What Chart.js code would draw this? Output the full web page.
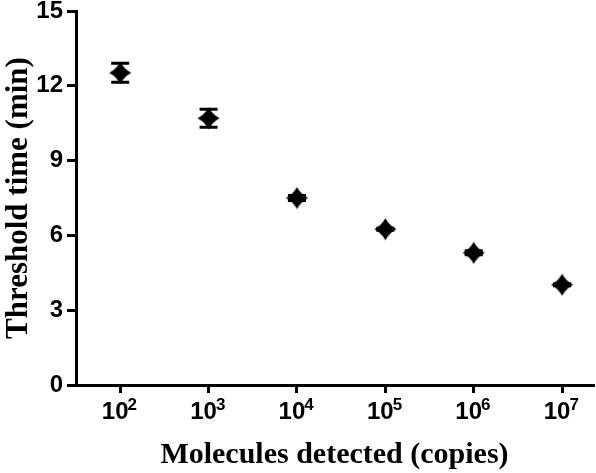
<!DOCTYPE html>
<html>
<head>
<meta charset="utf-8">
<script src="https://cdn.jsdelivr.net/npm/chart.js@4/dist/chart.umd.min.js"></script>
<style>
  html, body { margin: 0; padding: 0; background: #fff; }
  #c { display: block; }
</style>
</head>
<body>
<canvas id="c" width="596" height="473"></canvas>
<script>
// ---- data ----
const copies = [1e2, 1e3, 1e4, 1e5, 1e6, 1e7];
const thresholdTime = [12.52, 10.70, 7.50, 6.25, 5.30, 4.02];
const thresholdErr = [0.38, 0.36, 0.10, 0.04, 0.08, 0.04];
const xTickValues = [1e2, 1e3, 1e4, 1e5, 1e6, 1e7];
const xTickBase = ['10', '10', '10', '10', '10', '10'];
const xTickExponents = ['2', '3', '4', '5', '6', '7'];
const yTickValues = [0, 3, 6, 9, 12, 15];

const TICK_FONT = { family: 'Liberation Sans', weight: 'bold', size: 24, lineHeight: 1 };
const EXP_FONT = 'bold 17px "Liberation Sans"';
const X_LABEL_SHIFT = -5;

// custom marker: diamond with slightly concave sides
function makeMarker(size) {
  const c = document.createElement('canvas');
  c.width = size; c.height = size;
  const g = c.getContext('2d');
  const m = size / 2, e = 0.5, f = size - 0.5;
  const cp = (ax, ay, bx, by) => {
    const mx = (ax + bx) / 2, my = (ay + by) / 2;
    return [mx + (m - mx) * 0.3, my + (m - my) * 0.3];
  };
  g.fillStyle = '#000';
  g.beginPath();
  g.moveTo(m, e);
  let p = cp(m, e, f, m); g.quadraticCurveTo(p[0], p[1], f, m);
  p = cp(f, m, m, f); g.quadraticCurveTo(p[0], p[1], m, f);
  p = cp(m, f, e, m); g.quadraticCurveTo(p[0], p[1], e, m);
  p = cp(e, m, m, e); g.quadraticCurveTo(p[0], p[1], m, e);
  g.closePath();
  g.fill();
  return c;
}
const marker = makeMarker(23);

const errorBars = {
  id: 'errorBars',
  beforeDatasetsDraw(chart) {
    const ctx = chart.ctx;
    const ys = chart.scales.y;
    const meta = chart.getDatasetMeta(0);
    ctx.save();
    ctx.strokeStyle = '#000';
    ctx.lineWidth = 3;
    meta.data.forEach((pt, i) => {
      const v = thresholdTime[i], e = thresholdErr[i];
      const yt = ys.getPixelForValue(v + e);
      const yb = ys.getPixelForValue(v - e);
      const x = pt.x, w = 9;
      ctx.beginPath();
      ctx.moveTo(x, yt); ctx.lineTo(x, yb);
      ctx.moveTo(x - w, yt); ctx.lineTo(x + w, yt);
      ctx.moveTo(x - w, yb); ctx.lineTo(x + w, yb);
      ctx.stroke();
    });
    ctx.restore();
  }
};

// exponents of the x tick labels (10^n), placed after each "10" label
const exponents = {
  id: 'exponents',
  afterDraw(chart) {
    const ctx = chart.ctx;
    const xs = chart.scales.x;
    ctx.save();
    ctx.font = 'bold ' + TICK_FONT.size + 'px "' + TICK_FONT.family + '"';
    const baseW = ctx.measureText('10').width;
    ctx.font = EXP_FONT;
    ctx.fillStyle = '#000';
    ctx.textAlign = 'left';
    ctx.textBaseline = 'top';
    xTickValues.forEach((v, i) => {
      const x = xs.getPixelForValue(v) + X_LABEL_SHIFT + baseW / 2 - 1;
      ctx.fillText(xTickExponents[i], x, xs.top + 12);
    });
    ctx.restore();
  }
};

new Chart(document.getElementById('c'), {
  type: 'scatter',
  data: {
    datasets: [{
      data: copies.map((x, i) => ({ x: x, y: thresholdTime[i] })),
      pointStyle: marker,
      pointRadius: 11,
      backgroundColor: '#000',
      borderColor: '#000'
    }]
  },
  options: {
    responsive: false,
    devicePixelRatio: 1,
    animation: false,
    layout: { autoPadding: false, padding: { top: 11, right: 3, bottom: 0, left: 0 } },
    plugins: { legend: { display: false }, tooltip: { enabled: false } },
    scales: {
      x: {
        type: 'logarithmic',
        position: 'bottom',
        bounds: 'data',
        min: Math.pow(10, 1.5),
        max: Math.pow(10, 7.35),
        afterBuildTicks: (s) => { s.ticks = xTickValues.map(v => ({ value: v })); },
        afterFit: (s) => { s.height = 88; s.paddingLeft = 0; s.paddingRight = 0; },
        border: { display: true, color: '#000', width: 3 },
        grid: { display: true, drawOnChartArea: false, drawTicks: true, tickLength: 8, lineWidth: 3, color: '#000' },
        ticks: {
          autoSkip: false, maxRotation: 0, minRotation: 0,
          padding: 7,
          labelOffset: X_LABEL_SHIFT,
          color: '#000',
          font: TICK_FONT,
          callback: (v, i) => xTickBase[i]
        },
        title: {
          display: true,
          text: 'Molecules detected (copies)',
          color: '#000',
          font: { family: 'Liberation Serif', weight: 'bold', size: 30 },
          padding: { top: 0, bottom: 0 }
        }
      },
      y: {
        min: 0,
        max: 15,
        afterBuildTicks: (s) => { s.ticks = yTickValues.map(v => ({ value: v })); },
        afterFit: (s) => { s.width = 76; s.paddingTop = 0; s.paddingBottom = 0; },
        border: { display: true, color: '#000', width: 3 },
        grid: { display: true, drawOnChartArea: false, drawTicks: true, tickLength: 9, lineWidth: 3, color: '#000' },
        ticks: {
          padding: 4,
          color: '#000',
          font: TICK_FONT
        },
        title: {
          display: true,
          text: 'Threshold time (min)',
          color: '#000',
          font: { family: 'Liberation Serif', weight: 'bold', size: 31 },
          padding: { top: 0, bottom: 0 }
        }
      }
    }
  },
  plugins: [errorBars, exponents]
});
</script>
</body>
</html>
